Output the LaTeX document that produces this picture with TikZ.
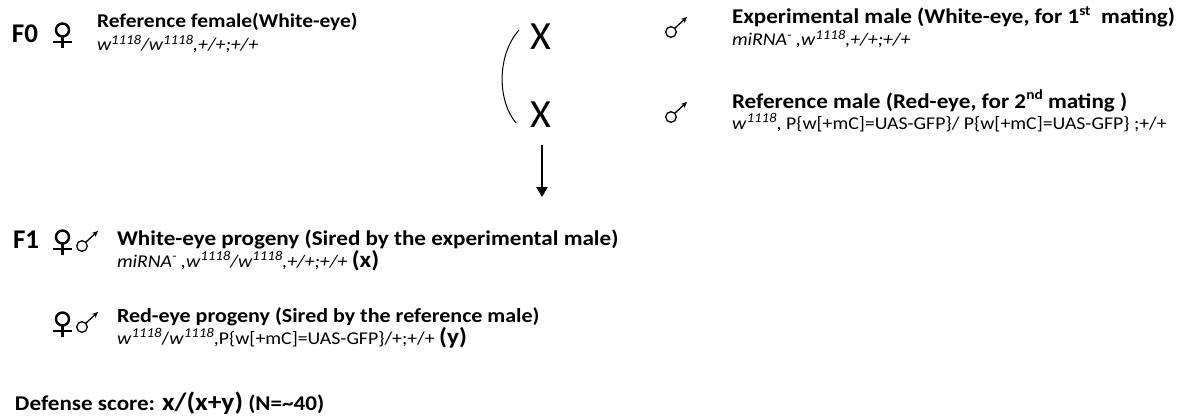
\documentclass[tikz,border=0pt]{standalone}
\usepackage{fontspec}
\setmainfont{Carlito}[FakeStretch=1.1]
\newfontfamily\plainfont{Carlito}
\usetikzlibrary{arrows.meta}
\newcommand\supr[1]{\raisebox{6.5pt}{\fontsize{13.5}{13.5}\selectfont #1}}
\newcommand\tsup[1]{\raisebox{8.5pt}{\fontsize{14}{14}\selectfont #1}}
\newcommand\wmut{\textit{w}\supr{\itshape 1118}}
\begin{document}
\begin{tikzpicture}[x=1pt,y=-1pt,
  txt/.style={anchor=base west,inner sep=0pt,outer sep=0pt},
  gen/.style={txt,font=\fontsize{18}{20}\selectfont},
  ttl/.style={txt,font=\fontsize{21}{24}\selectfont\bfseries},
  genlabel/.style={txt,font=\plainfont\fontsize{27}{32}\selectfont\bfseries},
  crossmark/.style={txt,font=\plainfont\fontsize{40}{44}\selectfont},
  female/.pic={
    \draw[line width=2.4pt] (0,0) circle (6.5);
    \draw[line width=2.4pt] (0,6.5) -- (0,18);
    \draw[line width=2.4pt] (-9.5,12) -- (9.5,12);
  },
  male/.pic={
    \draw[line width=1.3pt] (0,0) circle (5.3);
    \draw[line width=1.3pt,-{Stealth[length=6pt,width=5.5pt]}] (3.8,-3.8) -- (16,-15);
  }]
\useasboundingbox[fill=white] (0,0) rectangle (1192,420);

% F0
\node[genlabel] (f0) at (12,43) {F0};
\pic at (62.5,30) {female};
\node[ttl,font=\fontsize{19.5}{24}\selectfont\bfseries] (reff) at (97,28) {Reference female(White-eye)};
\node[gen] (reffg) at (97,51) {\itshape \wmut/\wmut,+/+;+/+};

% cross
\node[crossmark] (x1) at (530,50) {X};
\node[crossmark] (x2) at (530,127) {X};
\coordinate (arcA) at (519,30);
\coordinate (arcB) at (516,123);
\draw[line width=1pt] (arcA) .. controls (497,55) and (497,100) .. (arcB);
\coordinate (arrA) at (542,145);
\coordinate (arrB) at (542,197);
\draw[line width=2.6pt,-{Triangle[length=10pt,width=11pt]}] (arrA) -- (arrB);

% males
\pic at (671,32) {male};
\node[ttl] (expm) at (732,24) {Experimental male (White-eye, for 1\tsup{st}\ \ mating)};
\node[gen] (expmg) at (732,46) {\itshape miRNA\supr{-} ,\wmut,+/+;+/+};
\pic at (671,117) {male};
\node[ttl] (refm) at (732,108) {Reference male (Red-eye, for 2\tsup{nd} mating )};
\node[gen] (refmg) at (732,129) {\wmut, P\{w[+mC]=UAS-GFP\}/ P\{w[+mC]=UAS-GFP\} ;+/+};

% F1
\node[genlabel] (f1) at (13,248) {F1};
\pic at (62.5,237) {female};
\pic at (82,246) {male};
\node[ttl] (wp) at (117,245) {White-eye progeny (Sired by the experimental male)};
\node[gen] (wpg) at (117,267) {\itshape miRNA\supr{-} ,\wmut/\wmut,+/+;+/+ {\upshape\bfseries\fontsize{23}{24}\selectfont (x)}};
\pic at (62.5,319) {female};
\pic at (82,327) {male};
\node[ttl,font=\fontsize{20}{24}\selectfont\bfseries] (rp) at (117,322) {Red-eye progeny (Sired by the reference male)};
\node[gen] (rpg) at (117,344) {\wmut/\wmut,P\{w[+mC]=UAS-GFP\}/+;+/+ {\bfseries\fontsize{23}{24}\selectfont (y)}};

% score
\node[txt,font=\fontsize{21}{24}\selectfont\bfseries] (ds) at (15,410) {Defense score: {\fontsize{25}{26}\selectfont x/(x+y)} (N=\textasciitilde 40)};
\end{tikzpicture}
\end{document}
